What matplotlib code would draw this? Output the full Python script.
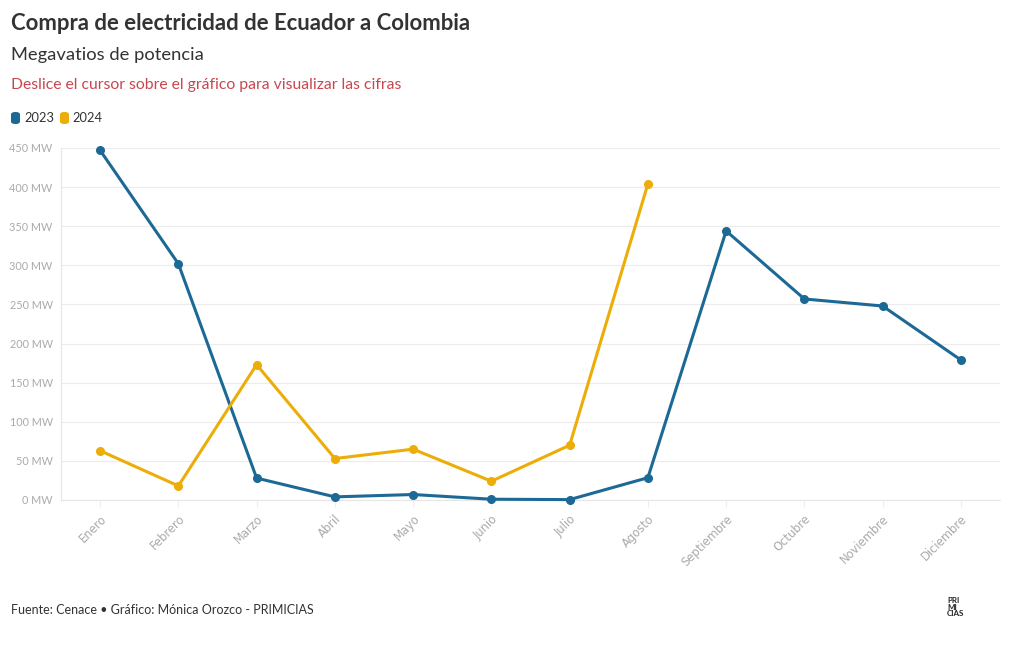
import matplotlib
matplotlib.use("Agg")
import matplotlib.pyplot as plt
from matplotlib.patches import FancyBboxPatch

months = ["Enero", "Febrero", "Marzo", "Abril", "Mayo", "Junio", "Julio",
          "Agosto", "Septiembre", "Octubre", "Noviembre", "Diciembre"]
mw_2023 = [447, 302, 28, 4, 7, 1, 0.5, 28.5, 344, 257, 248, 179]
mw_2024 = [63, 18, 173, 53, 65, 24, 70, 404]
yticks = [0, 50, 100, 150, 200, 250, 300, 350, 400, 450]

BLUE = "#1d6996"
YELLOW = "#edad08"
FONT = ["Lato", "DejaVu Sans"]
plt.rcParams["font.family"] = FONT

fig = plt.figure(figsize=(10.2, 6.5), dpi=100)
ax = fig.add_axes([61/1020, 150/650, (1000-61)/1020, (500-148)/650])

x23 = list(range(len(mw_2023)))
x24 = list(range(len(mw_2024)))
ax.plot(x23, mw_2023, color=BLUE, lw=2.2, marker="o", ms=5.5, zorder=3,
        solid_joinstyle="round", clip_on=False)
ax.plot(x24, mw_2024, color=YELLOW, lw=2.2, marker="o", ms=5.5, zorder=3,
        solid_joinstyle="round", clip_on=False)

ax.set_xlim(-0.5, len(months) - 0.5)
ax.set_ylim(0, 450)
ax.set_yticks(yticks)
ax.set_yticklabels([f"{v} MW" for v in yticks], color="#aaaaaa", fontsize=7.8)
ax.set_xticks(range(len(months)))
ax.set_xticklabels(months, rotation=45, ha="right", rotation_mode="anchor",
                   color="#aaaaaa", fontsize=8.3, family=["DejaVu Sans"])
ax.grid(axis="y", color="#ececec", lw=0.8)
ax.set_axisbelow(True)
for s in ["top", "right"]:
    ax.spines[s].set_visible(False)
ax.spines["left"].set_color("#e6e6e6")
ax.spines["bottom"].set_color("#e6e6e6")
ax.tick_params(axis="y", length=0, pad=6)
ax.tick_params(axis="x", length=5, color="#eeeeee", pad=4)

fig.text(11/1020, 1 - 24/650, "Compra de electricidad de Ecuador a Colombia",
         fontsize=15.9, fontweight="bold", color="#333333", va="center", ha="left")
fig.text(11/1020, 1 - 55/650, "Megavatios de potencia",
         fontsize=13.2, color="#333333", va="center", ha="left")
fig.text(11/1020, 1 - 85/650, "Deslice el cursor sobre el gráfico para visualizar las cifras",
         fontsize=11.3, color="#c9464f", va="center", ha="left")

# legend
for xs, col, lab, tx in [(11, BLUE, "2023", 24), (60, YELLOW, "2024", 72)]:
    p = FancyBboxPatch((xs/1020, 1 - 124/650), 9/1020, 12/650,
                       boxstyle="round,pad=0,rounding_size=0.004",
                       transform=fig.transFigure, facecolor=col, edgecolor="none")
    fig.patches.append(p)
    fig.text(tx/1020, 1 - 118/650, lab, fontsize=9.3, color="#333333",
             va="center", ha="left")

fig.text(11/1020, 1 - 610/650, "Fuente: Cenace • Gráfico: Mónica Orozco - PRIMICIAS",
         fontsize=9.0, color="#333333", va="center", ha="left")
fig.text(947/1020, 1 - 607/650, "PRI\nMI\nCIAS", fontsize=5.8, fontweight="bold",
         color="#222222", va="center", ha="left", linespacing=0.85)

fig.savefig("out.png", dpi=100, facecolor="white")
